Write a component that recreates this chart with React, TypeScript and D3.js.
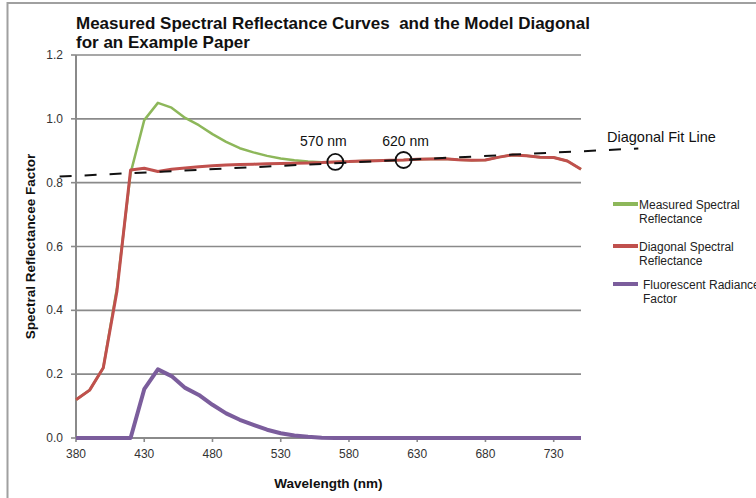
import React from "react";
import * as d3 from "d3";

const wavelengths = [380, 390, 400, 410, 420, 430, 440, 450, 460, 470, 480, 490, 500, 510, 520, 530, 540, 550, 560, 570, 580, 590, 600, 610, 620, 630, 640, 650, 660, 670, 680, 690, 700, 710, 720, 730, 740, 750];

const measured = [0.12, 0.15, 0.22, 0.47, 0.83, 0.996, 1.05, 1.035, 1.003, 0.98, 0.952, 0.928, 0.908, 0.895, 0.884, 0.876, 0.87, 0.866, 0.864, 0.865, 0.866, 0.868, 0.869, 0.87, 0.871, 0.873, 0.874, 0.875, 0.872, 0.87, 0.871, 0.88, 0.887, 0.884, 0.88, 0.879, 0.868, 0.842];

const diagonal = [0.12, 0.15, 0.22, 0.46, 0.84, 0.845, 0.835, 0.842, 0.846, 0.85, 0.853, 0.855, 0.857, 0.858, 0.859, 0.86, 0.861, 0.862, 0.863, 0.865, 0.866, 0.868, 0.869, 0.87, 0.871, 0.873, 0.874, 0.875, 0.872, 0.87, 0.871, 0.88, 0.887, 0.884, 0.88, 0.879, 0.868, 0.842];

const fluorescent = [0, 0, 0, 0, 0, 0.153, 0.215, 0.194, 0.157, 0.135, 0.104, 0.077, 0.057, 0.041, 0.026, 0.015, 0.008, 0.004, 0.001, 0, 0, 0, 0, 0, 0, 0, 0, 0, 0, 0, 0, 0, 0, 0, 0, 0, 0, 0];

const fitLineX = [368, 792];
const fitLineY = [0.819, 0.907];

const markerWavelengths = [570, 620];
const markerLabels = ["570 nm", "620 nm"];

const xTicks = [380, 430, 480, 530, 580, 630, 680, 730];
const yTicks = [0, 0.2, 0.4, 0.6, 0.8, 1.0, 1.2];

const seriesNames = [["Measured Spectral", "Reflectance"], ["Diagonal Spectral", "Reflectance"], ["Fluorescent Radiance", "Factor"]];
const seriesColors = ["#8db75a", "#c0504d", "#7b5d9c"];

const titleLines = ["Measured Spectral Reflectance Curves  and the Model Diagonal", "for an Example Paper"];

export default function App() {
  const W = 756, H = 498;
  const left = 76, right = 581, top = 55, bottom = 438;
  const x = d3.scaleLinear().domain([380, 750]).range([left, right]);
  const y = d3.scaleLinear().domain([0, 1.2]).range([bottom, top]);
  const line = d3.line<number>().x((_, i) => x(wavelengths[i])).y((d) => y(d));
  const font = "'Liberation Sans', Arial, sans-serif";
  const grid = "#8a8a8a";
  const markerVals = markerWavelengths.map((w) => diagonal[wavelengths.indexOf(w)]);
  const labelDx = [-12, 2];
  const legendY = [204, 246, 284];
  const legendTextX = [639, 639, 643];

  return (
    <svg width={W} height={H} style={{ position: "absolute", left: 0, top: 0 }} fontFamily={font}>
      <rect x={0} y={0} width={W} height={H} fill="#fff" />
      <rect x={7.5} y={3} width={900} height={700} fill="none" stroke="#a0a0a0" strokeWidth={2} />
      {titleLines.map((t, i) => (
        <text key={i} x={76} y={29 + i * 18.5} fontSize={17} fontWeight="bold" fill="#111" style={{ whiteSpace: "pre" }}>{t}</text>
      ))}
      {yTicks.map((t) => (
        <g key={t}>
          {t > 0 && <line x1={left} x2={right} y1={y(t)} y2={y(t)} stroke={grid} strokeWidth={1.6} />}
          <line x1={left - 5} x2={left} y1={y(t)} y2={y(t)} stroke={grid} strokeWidth={1.6} />
          <text x={63} y={y(t) + 4} textAnchor="end" fontSize={12} fill="#333">{t.toFixed(1)}</text>
        </g>
      ))}
      <line x1={left} x2={left} y1={top} y2={bottom} stroke={grid} strokeWidth={2} />
      <line x1={left} x2={right} y1={bottom} y2={bottom} stroke={grid} strokeWidth={2} />
      {xTicks.map((t) => (
        <g key={t}>
          <line x1={x(t)} x2={x(t)} y1={bottom} y2={bottom + 4} stroke={grid} strokeWidth={1.6} />
          <text x={x(t)} y={bottom + 20} textAnchor="middle" fontSize={12} fill="#333">{t}</text>
        </g>
      ))}
      <text x={(left + right) / 2} y={488} textAnchor="middle" fontSize={13.5} fontWeight="bold" fill="#111">Wavelength (nm)</text>
      <text transform={`translate(35,${(top + bottom) / 2}) rotate(-90)`} textAnchor="middle" fontSize={13.5} fontWeight="bold" fill="#111">Spectral Reflectancee Factor</text>

      <path d={line(fluorescent) || ""} fill="none" stroke={seriesColors[2]} strokeWidth={4} strokeLinejoin="round" />
      <path d={line(measured) || ""} fill="none" stroke={seriesColors[0]} strokeWidth={2.5} strokeLinejoin="round" />
      <path d={line(diagonal) || ""} fill="none" stroke={seriesColors[1]} strokeWidth={3} strokeLinejoin="round" />

      <line x1={x(fitLineX[0])} y1={y(fitLineY[0])} x2={x(fitLineX[1])} y2={y(fitLineY[1])} stroke="#111" strokeWidth={2} strokeDasharray="12,13" />
      <text x={607} y={142} fontSize={14.5} fill="#111">Diagonal Fit Line</text>

      {markerWavelengths.map((w, i) => (
        <g key={w}>
          <circle cx={x(w)} cy={y(markerVals[i])} r={8} fill="none" stroke="#111" strokeWidth={1.8} />
          <text x={x(w) + labelDx[i]} y={146} textAnchor="middle" fontSize={14} fill="#111">{markerLabels[i]}</text>
        </g>
      ))}

      {seriesNames.map((n, i) => (
        <g key={i}>
          <line x1={613} x2={638} y1={legendY[i]} y2={legendY[i]} stroke={seriesColors[i]} strokeWidth={4} />
          {n.map((s, j) => (
            <text key={j} x={legendTextX[i]} y={legendY[i] + 5 + j * 13.5} fontSize={12} fill="#222">{s}</text>
          ))}
        </g>
      ))}
    </svg>
  );
}
